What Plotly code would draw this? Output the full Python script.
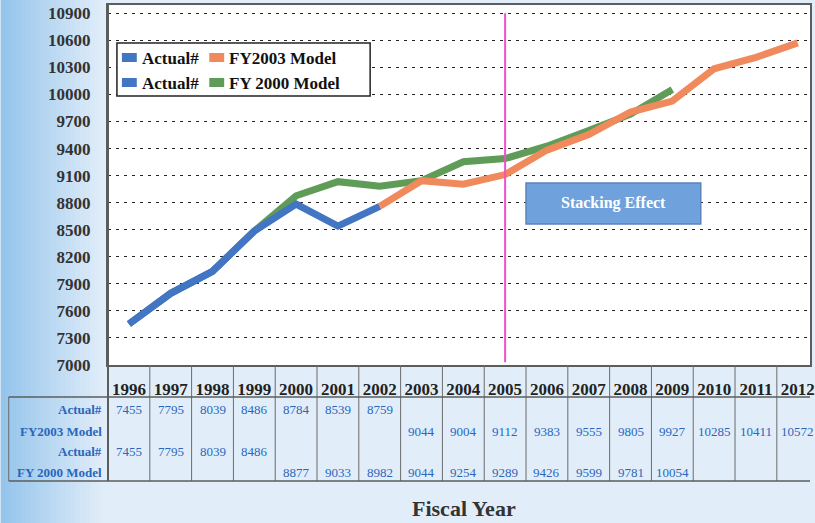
import plotly.graph_objects as go

# ---- data -------------------------------------------------------------
years = list(range(1996, 2013))
actual_years = list(range(1996, 2003))
actual = [7455, 7795, 8039, 8486, 8784, 8539, 8759]
fy2003_years = list(range(2003, 2013))
fy2003 = [9044, 9004, 9112, 9383, 9555, 9805, 9927, 10285, 10411, 10572]
actual2_years = list(range(1996, 2000))
actual2 = [7455, 7795, 8039, 8486]
fy2000_years = list(range(2000, 2010))
fy2000 = [8877, 9033, 8982, 9044, 9254, 9289, 9426, 9599, 9781, 10054]
y_ticks = [7000, 7300, 7600, 7900, 8200, 8500, 8800, 9100, 9400, 9700,
           10000, 10300, 10600, 10900]
row_labels = ["Actual#", "FY2003 Model", "Actual#", "FY 2000 Model"]
divider_year = 2005

# ---- styling ----------------------------------------------------------
W, H = 815, 523
L, R, T, B = 108, 0, 5, 158
PW, PH = W - L - R, H - T - B
SERIF = "Liberation Serif"
BLUE = "#4275c2"
ORANGE = "#f08a5c"
GREEN = "#5f9c57"
TXT_BLUE = "#2a66bd"
DARK = "#333333"
LINE_W = 7


def px(x):
    """pixel column -> paper x"""
    return (x - L) / PW


def py(y):
    """pixel row -> paper y"""
    return (H - B - y) / PH


fig = go.Figure()

# FY 2000 model continues from the last actual point of its own row
fig.add_trace(go.Scatter(
    x=[actual2_years[-1]] + fy2000_years, y=[actual2[-1]] + fy2000,
    mode="lines", line=dict(color=GREEN, width=LINE_W), showlegend=False,
    hoverinfo="skip"))
fig.add_trace(go.Scatter(
    x=actual_years, y=actual, mode="lines",
    line=dict(color=BLUE, width=LINE_W), showlegend=False, hoverinfo="skip"))
fig.add_trace(go.Scatter(
    x=actual2_years, y=actual2, mode="lines",
    line=dict(color=BLUE, width=LINE_W), showlegend=False, hoverinfo="skip"))
# FY2003 model continues from the last actual point
fig.add_trace(go.Scatter(
    x=[actual_years[-1]] + fy2003_years, y=[actual[-1]] + fy2003,
    mode="lines", line=dict(color=ORANGE, width=LINE_W), showlegend=False,
    hoverinfo="skip"))

shapes = []
annotations = []

# background shading on the left edge (kept left of the plot area)
n_strips = 21
c0 = (150, 197, 236)
c1 = (225, 238, 249)
for i in range(n_strips):
    t = i / (n_strips - 1)
    c = tuple(int(c0[k] + (c1[k] - c0[k]) * t) for k in range(3))
    x_left = i * 5
    x_right = min(x_left + 6, L)
    shapes.append(dict(type="rect", xref="paper", yref="paper", layer="below",
                       x0=px(x_left), x1=px(x_right), y0=py(H + 5), y1=py(-5),
                       fillcolor="rgb(%d,%d,%d)" % c, line=dict(width=0)))

# divider line
shapes.append(dict(type="line", xref="x", yref="y", x0=divider_year,
                   x1=divider_year, y0=y_ticks[0] + 30, y1=y_ticks[-1],
                   line=dict(color="#f050c8", width=2)))

# "Stacking Effect" label box
shapes.append(dict(type="rect", xref="x", yref="y", x0=2005.5, x1=2009.68,
                   y0=8564, y1=9018, fillcolor="#6fa2dc",
                   line=dict(color="#5a84bd", width=1.5)))
annotations.append(dict(xref="x", yref="y", x=(2005.5 + 2009.68) / 2,
                        y=(8564 + 9018) / 2, text="<b>Stacking Effect</b>",
                        showarrow=False,
                        font=dict(family=SERIF, size=16, color="white")))

# ---- data table under the plot ---------------------------------------
grid = dict(color="#6b6b6b", width=1)
tbl_top = py(397)
tbl_bot = py(481)
for yr in years[1:]:
    shapes.append(dict(type="line", xref="x", yref="paper", x0=yr - 0.5,
                       x1=yr - 0.5, y0=tbl_bot, y1=0, line=grid))
shapes.append(dict(type="line", xref="paper", yref="paper", x0=0, x1=0,
                   y0=tbl_bot, y1=1, line=dict(color="#5a5e5c", width=2)))
shapes.append(dict(type="line", xref="paper", yref="paper", x0=px(8),
                   x1=px(8), y0=tbl_bot, y1=tbl_top, line=grid))
for yy in (tbl_top, tbl_bot):
    shapes.append(dict(type="line", xref="paper", yref="paper", x0=px(8),
                       x1=1.0, y0=yy, y1=yy, line=dict(color="#5a5e5c", width=1.5)))

row_y = [py(409), py(431), py(451), py(472)]
row_data = [(actual_years, actual), (fy2003_years, fy2003),
            (actual2_years, actual2), (fy2000_years, fy2000)]
for label, ry, (xs, vs) in zip(row_labels, row_y, row_data):
    annotations.append(dict(xref="paper", yref="paper", x=px(104), y=ry,
                            xanchor="right", yanchor="middle", showarrow=False,
                            text="<b>%s</b>" % label,
                            font=dict(family=SERIF, size=13, color=TXT_BLUE)))
    for xv, v in zip(xs, vs):
        annotations.append(dict(xref="x", yref="paper", x=xv, y=ry,
                                xanchor="center", yanchor="middle",
                                showarrow=False, text=str(v),
                                font=dict(family=SERIF, size=13, color=TXT_BLUE)))

# ---- legend box -------------------------------------------------------
shapes.append(dict(type="rect", xref="paper", yref="paper", x0=px(117),
                   x1=px(372), y0=py(96), y1=py(43), fillcolor="white",
                   line=dict(color="#222222", width=1.5)))
legend_items = [("Actual#", BLUE, 122, 58), ("FY2003 Model", ORANGE, 210, 58),
                ("Actual#", BLUE, 122, 83), ("FY 2000 Model", GREEN, 210, 83)]
for name, col, lx, ly in legend_items:
    shapes.append(dict(type="rect", xref="paper", yref="paper", x0=px(lx),
                       x1=px(lx + 15), y0=py(ly + 4), y1=py(ly - 5),
                       fillcolor=col, line=dict(width=0)))
    annotations.append(dict(xref="paper", yref="paper", x=px(lx + 18), y=py(ly),
                            xanchor="left", yanchor="middle", showarrow=False,
                            text="<b>%s</b>" % name,
                            font=dict(family=SERIF, size=17, color="#111111")))

# axis title below the table
annotations.append(dict(xref="paper", yref="paper", x=px(467), y=py(508),
                        xanchor="center", yanchor="middle", showarrow=False,
                        text="<b>Fiscal Year</b>",
                        font=dict(family=SERIF, size=22, color=DARK)))

fig.update_layout(
    width=W, height=H,
    margin=dict(l=L, r=R, t=T, b=B, pad=0),
    paper_bgcolor="#e1eef9",
    plot_bgcolor="white",
    showlegend=False,
    shapes=shapes,
    annotations=annotations,
    xaxis=dict(range=[1995.5, 1995.5 + PW / 42.1], tickmode="array",
               tickvals=years, ticktext=[str(y) for y in years],
               showgrid=False, zeroline=False, ticks="",
               showline=True, linecolor="#5a5e5c", linewidth=2, mirror=True,
               ticklabelstandoff=8, ticklabeloverflow="allow",
               tickfont=dict(family=SERIF, size=17, color="#222222",
                             weight="bold")),
    yaxis=dict(range=[7000, 10992], tickmode="array", tickvals=y_ticks,
               ticktext=[str(v) for v in y_ticks],
               showgrid=True, gridcolor="#222222", gridwidth=1,
               griddash="3px,5px", zeroline=False, ticks="",
               showline=True, linecolor="#5a5e5c", linewidth=2, mirror=True,
               ticklabelstandoff=12,
               tickfont=dict(family=SERIF, size=17, color=DARK, weight="bold")),
)

fig.write_html("out.html")
